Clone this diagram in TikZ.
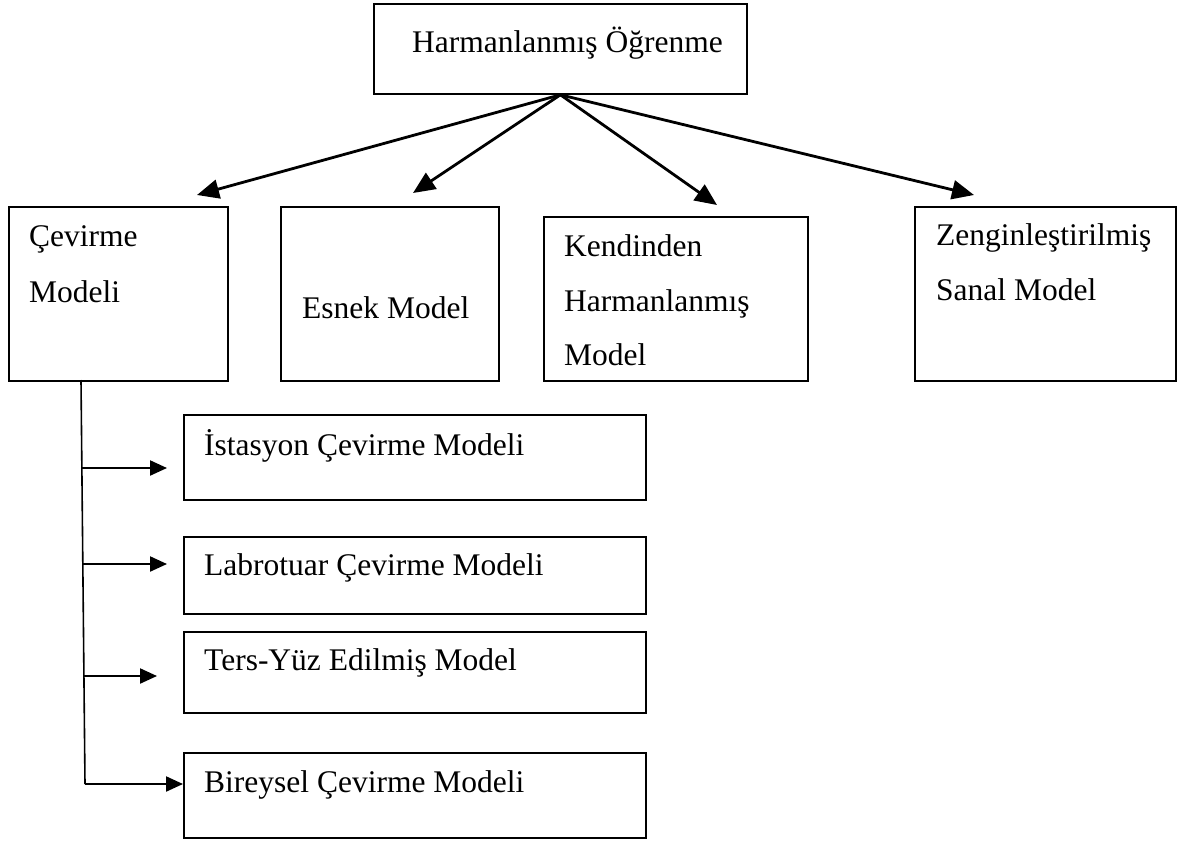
\documentclass[tikz,border=0pt]{standalone}
\usepackage{fontspec}
\setmainfont{Liberation Serif}
\usetikzlibrary{positioning,calc,arrows.meta}

\begin{document}
\begin{tikzpicture}[x=1pt,y=-1pt,
    kutu/.style={draw, line width=1.8pt, inner sep=0pt, anchor=north west},
    yazi/.style={anchor=base west, inner sep=0pt, font=\fontsize{31.5}{56}\selectfont},
    ok/.style={line width=2.8pt, -{Triangle[length=22pt,width=19pt]}},
    kucukok/.style={line width=2.2pt, -{Triangle[length=17pt,width=15pt]}}]

    \useasboundingbox (0,0) rectangle (1184,844);

    % Ust kutu
    \node[kutu, minimum width=373pt, minimum height=90pt] (harman) at (373,3) {};
    \node[yazi] (harmanyazi) at (412,52) {Harmanlanmış Öğrenme};

    % Modeller
    \node[kutu, minimum width=219pt, minimum height=174pt] (cevirme) at (8,206) {};
    \node[yazi] (cevirme1) at (29,246) {Çevirme};
    \node[yazi] (cevirme2) at (29,302) {Modeli};

    \node[kutu, minimum width=218pt, minimum height=174pt] (esnek) at (280,206) {};
    \node[yazi] (esnekyazi) at (302,318) {Esnek Model};

    \node[kutu, minimum width=264pt, minimum height=164pt] (kendi) at (543,216) {};
    \node[yazi] (kendi1) at (564,256) {Kendinden};
    \node[yazi] (kendi2) at (564,311) {Harmanlanmış};
    \node[yazi] (kendi3) at (564,365) {Model};

    \node[kutu, minimum width=261pt, minimum height=174pt] (zengin) at (914,206) {};
    \node[yazi] (zengin1) at (936,245) {Zenginleştirilmiş};
    \node[yazi] (zengin2) at (936,300) {Sanal Model};

    % Ok uclari
    \coordinate (u1) at (197,195);
    \coordinate (u2) at (413,193);
    \coordinate (u3) at (717,205);
    \coordinate (u4) at (974,195);
    \foreach \u in {u1,u2,u3,u4} \draw[ok] (harman.south) -- (\u);

    % Cevirme alt modelleri
    \node[kutu, minimum width=462pt, minimum height=85pt] (istasyon) at (183,414) {};
    \node[yazi] (istasyonyazi) at (204,455) {İstasyon Çevirme Modeli};

    \node[kutu, minimum width=462pt, minimum height=77pt] (lab) at (183,536) {};
    \node[yazi] (labyazi) at (204,575) {Labrotuar Çevirme Modeli};

    \node[kutu, minimum width=462pt, minimum height=81pt] (ters) at (183,631) {};
    \node[yazi] (tersyazi) at (204,670) {Ters-Yüz Edilmiş Model};

    \node[kutu, minimum width=462pt, minimum height=85pt] (bireysel) at (183,752) {};
    \node[yazi] (bireyselyazi) at (204,792) {Bireysel Çevirme Modeli};

    % Dikey hat
    \coordinate (h0) at (81,380);
    \coordinate (h4) at (85,784);
    \draw[line width=1.6pt] (h0) -- (h4);

    \coordinate (h1) at (82,468);
    \coordinate (h2) at (82,564);
    \coordinate (h3) at (83,676);
    \coordinate (o1) at (167,468);
    \coordinate (o2) at (167,564);
    \coordinate (o3) at (157,676);
    \draw[kucukok] (h1) -- (o1);
    \draw[kucukok] (h2) -- (o2);
    \draw[kucukok] (h3) -- (o3);
    \draw[kucukok] (h4) -- (bireysel.west |- h4);
\end{tikzpicture}
\end{document}
